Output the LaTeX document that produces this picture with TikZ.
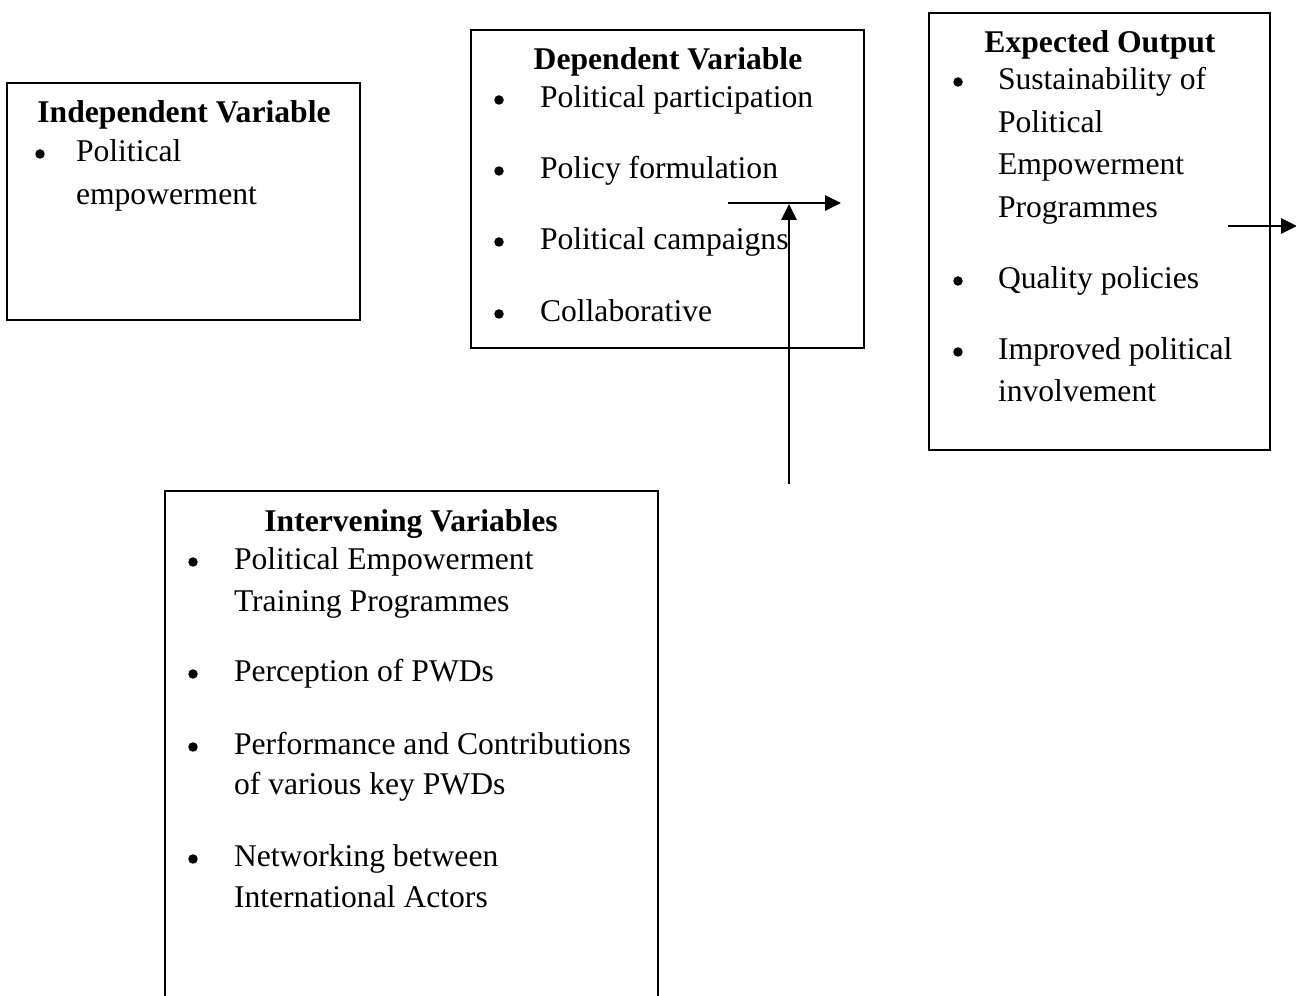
\documentclass[tikz,border=0pt]{standalone}
\usepackage{fontspec}
\setmainfont{Liberation Serif}
\usetikzlibrary{fit,arrows.meta}
\tikzset{
  txt/.style={inner sep=0pt, outer sep=0pt, font=\fontsize{18}{22}\selectfont, anchor=base west},
  ttl/.style={txt, font=\fontsize{18}{22}\selectfont\bfseries, anchor=base},
  bul/.style={circle, fill=black, inner sep=0pt, minimum size=0.19cm, yshift=0.16cm},
  box/.style={draw, line width=1pt, inner sep=0pt, outer sep=0pt},
  conn/.style={line width=1.3pt, -{Triangle[length=9pt,width=8.5pt]}}
}
\begin{document}
\begin{tikzpicture}[x=0.02cm,y=-0.02cm]
\useasboundingbox (0,0) rectangle (1296,996);
\clip (0,0) rectangle (1296,996);
% boxes
\node[box, fit={(7,83)(360,320)}] (ivbox) {};
\node[box, fit={(471,30)(864,348)}] (dvbox) {};
\node[box, fit={(929,13)(1270,450)}] (eobox) {};
\node[box, fit={(165,491)(658,1010)}] (inbox) {};
% independent
\node[ttl] (ivt) at (184,123) {Independent Variable};
\node[bul] (ivb1) at (40,162) {};
\node[txt] (iv1a) at (76,162) {Political};
\node[txt] (iv1b) at (76,205) {empowerment};
% dependent
\node[ttl] (dvt) at (668,70) {Dependent Variable};
\node[bul] (dvb1) at (499,108) {};
\node[bul] (dvb2) at (499,179) {};
\node[bul] (dvb3) at (499,250) {};
\node[bul] (dvb4) at (499,322) {};
\node[txt] (dv1) at (540,108) {Political participation};
\node[txt] (dv2) at (540,179) {Policy formulation};
\node[txt] (dv3) at (540,250) {Political campaigns};
\node[txt] (dv4) at (540,322) {Collaborative};
% expected
\node[ttl] (eot) at (1100,53) {Expected Output};
\node[bul] (eob1) at (958,90) {};
\node[bul] (eob2) at (958,289) {};
\node[bul] (eob3) at (958,360) {};
\node[txt] (eo1a) at (998,90) {Sustainability of};
\node[txt] (eo1b) at (998,133) {Political};
\node[txt] (eo1c) at (998,175) {Empowerment};
\node[txt] (eo1d) at (998,218) {Programmes};
\node[txt] (eo2) at (998,289) {Quality policies};
\node[txt] (eo3a) at (998,360) {Improved political};
\node[txt] (eo3b) at (998,402) {involvement};
% intervening
\node[ttl] (int) at (411,532) {Intervening Variables};
\node[bul] (inb1) at (193,570) {};
\node[bul] (inb2) at (193,682) {};
\node[bul] (inb3) at (193,755) {};
\node[bul] (inb4) at (193,867) {};
\node[txt] (in1a) at (234,570) {Political Empowerment};
\node[txt] (in1b) at (234,612) {Training Programmes};
\node[txt] (in2) at (234,682) {Perception of PWDs};
\node[txt] (in3a) at (234,755) {Performance and Contributions};
\node[txt] (in3b) at (234,795) {of various key PWDs};
\node[txt] (in4a) at (234,867) {Networking between};
\node[txt] (in4b) at (234,908) {International Actors};
% connectors
\coordinate (h1) at (728,203);
\coordinate (h2) at (841,203);
\coordinate (v1) at (789,484);
\coordinate (v2) at (789,204);
\coordinate (r1) at (1228,226);
\coordinate (r2) at (1297,226);
\draw[conn] (h1) -- (h2);
\draw[conn] (v1) -- (v2);
\draw[conn] (r1) -- (r2);
\end{tikzpicture}
\end{document}
